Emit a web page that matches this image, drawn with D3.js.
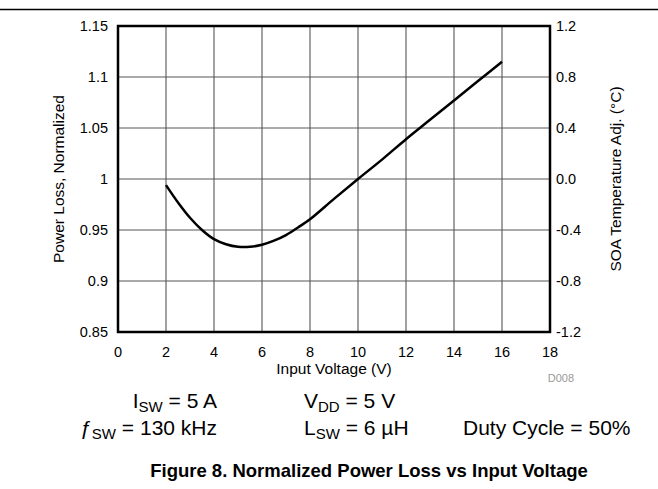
<!DOCTYPE html>
<html>
<head>
<meta charset="utf-8">
<script src="https://cdn.jsdelivr.net/npm/d3@7"></script>
<style>
  html, body { margin: 0; padding: 0; background: #fff; }
  svg { display: block; font-family: "Liberation Sans", Arial, sans-serif; }
</style>
</head>
<body>
<div id="chart"></div>
<script>
// data
const voltage = [2, 2.5, 3, 3.5, 4, 4.5, 5, 5.5, 6, 6.5, 7, 7.5, 8, 9, 10, 11, 12, 13, 14, 15, 16];
const powerLoss = [0.994, 0.977, 0.962, 0.950, 0.941, 0.936, 0.9335, 0.9335, 0.9355, 0.9395, 0.945, 0.9525, 0.9605, 0.9805, 1.000, 1.019, 1.039, 1.058, 1.077, 1.096, 1.115];
const xTicks = [0, 2, 4, 6, 8, 10, 12, 14, 16, 18];
const leftTicks = [0.85, 0.9, 0.95, 1, 1.05, 1.1, 1.15];
const rightTicks = [-1.2, -0.8, -0.4, 0, 0.4, 0.8, 1.2];

const W = 658, H = 489;
const plot = { left: 118, right: 550, top: 26, bottom: 332 };

const svg = d3.select("#chart").append("svg")
    .attr("width", W)
    .attr("height", H);

const x = d3.scaleLinear().domain([0, 18]).range([plot.left, plot.right]);
const y = d3.scaleLinear().domain([0.85, 1.15]).range([plot.bottom, plot.top]);
const y2 = d3.scaleLinear().domain([-1.2, 1.2]).range([plot.bottom, plot.top]);

// top rule
svg.append("line")
    .attr("x1", 0).attr("x2", W)
    .attr("y1", 9.5).attr("y2", 9.5)
    .attr("stroke", "#000").attr("stroke-width", 1.5);

// grid
svg.append("g").selectAll("line")
    .data(xTicks.slice(1, -1))
    .join("line")
    .attr("x1", d => x(d)).attr("x2", d => x(d))
    .attr("y1", plot.top).attr("y2", plot.bottom)
    .attr("stroke", "#444").attr("stroke-width", 1);

svg.append("g").selectAll("line")
    .data(leftTicks.slice(1, -1))
    .join("line")
    .attr("x1", plot.left).attr("x2", plot.right)
    .attr("y1", d => y(d)).attr("y2", d => y(d))
    .attr("stroke", "#555").attr("stroke-width", 1);

// frame
svg.append("rect")
    .attr("x", plot.left).attr("y", plot.top)
    .attr("width", plot.right - plot.left)
    .attr("height", plot.bottom - plot.top)
    .attr("fill", "none")
    .attr("stroke", "#000").attr("stroke-width", 2.5);

// curve
const line = d3.line()
    .x((d, i) => x(voltage[i]))
    .y(d => y(d))
    .curve(d3.curveCatmullRom);

svg.append("path")
    .datum(powerLoss)
    .attr("d", line)
    .attr("fill", "none")
    .attr("stroke", "#000")
    .attr("stroke-width", 2.5);

// tick labels
const tickSize = "14.5px";
svg.append("g").selectAll("text")
    .data(xTicks)
    .join("text")
    .attr("x", d => x(d)).attr("y", 357)
    .attr("text-anchor", "middle")
    .style("font-size", tickSize)
    .text(d => d);

svg.append("g").selectAll("text")
    .data(leftTicks)
    .join("text")
    .attr("x", 108).attr("y", d => y(d) + 5)
    .attr("text-anchor", "end")
    .style("font-size", tickSize)
    .text(d => d);

svg.append("g").selectAll("text")
    .data(rightTicks)
    .join("text")
    .attr("x", 556).attr("y", d => y2(d) + 5)
    .attr("text-anchor", "start")
    .style("font-size", tickSize)
    .text(d => d3.format(".1f")(d).replace("−", "-"));

// axis titles
svg.append("text")
    .attr("x", x(9)).attr("y", 374)
    .attr("text-anchor", "middle")
    .style("font-size", "15.5px")
    .text("Input Voltage (V)");

const midY = (plot.top + plot.bottom) / 2;
svg.append("text")
    .attr("transform", `translate(64,${midY}) rotate(-90)`)
    .attr("text-anchor", "middle")
    .style("font-size", "15.5px")
    .text("Power Loss, Normalized");

svg.append("text")
    .attr("transform", `translate(621,${midY}) rotate(-90)`)
    .attr("text-anchor", "middle")
    .style("font-size", "15.5px")
    .text("SOA Temperature Adj. (°C)");

svg.append("text")
    .attr("x", 574).attr("y", 382)
    .attr("text-anchor", "end")
    .attr("fill", "#999")
    .style("font-size", "11px")
    .text("D008");

// conditions
const annSize = 21, subSize = 15;
function cond(xPos, yPos, anchor, main, sub, rest) {
    const t = svg.append("text")
        .attr("x", xPos).attr("y", yPos)
        .attr("text-anchor", anchor)
        .style("font-size", annSize + "px");
    t.append("tspan").text(main);
    if (sub) {
        t.append("tspan").attr("dy", 4).style("font-size", subSize + "px").text(sub);
        t.append("tspan").attr("dy", -4).text(rest);
    } else {
        t.append("tspan").text(rest);
    }
}
cond(217, 408, "end", "I", "SW", " = 5 A");
cond(304, 408, "start", "V", "DD", " = 5 V");
cond(217, 435, "end", "ƒ", "SW", " = 130 kHz");
cond(304, 435, "start", "L", "SW", " = 6 µH");
cond(463, 435, "start", "Duty Cycle = 50%", null, "");

svg.append("text")
    .attr("x", 369).attr("y", 477)
    .attr("text-anchor", "middle")
    .style("font-size", "18.5px")
    .style("font-weight", "bold")
    .text("Figure 8. Normalized Power Loss vs Input Voltage");
</script>
</body>
</html>
